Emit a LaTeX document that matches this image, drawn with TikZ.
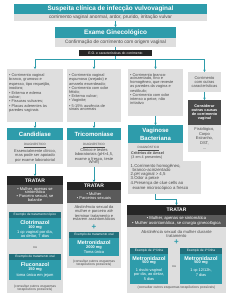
\documentclass[tikz,border=0pt]{standalone}
\usepackage{fontspec}
\setmainfont{Liberation Sans}
\usetikzlibrary{arrows.meta}
\definecolor{tealc}{HTML}{2E9CAB}
\definecolor{tealdk}{HTML}{22707C}
\definecolor{lgray}{HTML}{DEDEDE}
\definecolor{mgray}{HTML}{5A5A5A}
\definecolor{dgray}{HTML}{4A4A4A}
\definecolor{blk}{HTML}{262626}
\definecolor{txtg}{HTML}{4A4A4A}
\newcommand\fsz[2]{\fontsize{#1}{#2}\selectfont}
\newcommand\bx[6]{\node[#6, minimum width=#4pt, minimum height=#5pt, anchor=north west, inner sep=0pt, outer sep=0pt] (#1) at (#2,#3) {};}
\begin{document}
\begin{tikzpicture}[x=1pt,y=-1pt,
  tbox/.style={fill=tealc},
  tdbox/.style={fill=tealdk},
  gbox/.style={fill=lgray},
  mbox/.style={fill=mgray},
  dbox/.style={fill=dgray},
  kbox/.style={fill=blk},
  txt/.style={inner sep=0pt, align=center, text=txtg, font=\fsz{4}{3.7}},
  ltxt/.style={inner sep=0pt, align=left, text=txtg, font=\fsz{3.9}{3.55}, anchor=north west},
  wtxt/.style={inner sep=0pt, align=center, text=white, font=\fsz{4}{3.9}},
  head/.style={inner sep=0pt, align=center, text=white, font=\bfseries\fsz{6}{6}},
  trat/.style={inner sep=0pt, align=center, text=white, font=\bfseries\fsz{5}{5}},
  diag/.style={inner sep=0pt, text=txtg, font=\fsz{3.1}{3.1}},
  plus/.style={inner sep=0pt, text=tealc, font=\bfseries\fsz{8}{8}},
  exh/.style={inner sep=0pt, align=center, text=white, font=\fsz{3.2}{3.2}},
  drug/.style={inner sep=0pt, align=center, text=white, font=\bfseries\fsz{5.4}{5.4}},
  dose/.style={inner sep=0pt, align=center, text=white, font=\bfseries\fsz{3.9}{3.9}},
  cons/.style={inner sep=0pt, align=center, text=txtg, font=\fsz{3.4}{3.5}},
  line/.style={draw=tealc, line width=0.7pt},
  conn/.style={draw=tealc, line width=0.7pt, -{Stealth[length=2.4pt,width=2.6pt]}},
]
\useasboundingbox (0,0) rectangle (230,300);
% top
\bx{T1}{14}{4}{193}{10}{tbox}
\bx{T1s}{14}{14}{193}{7}{gbox}
\node[head, font=\bfseries\fsz{6.4}{6.4}] (t1t) at (T1.center) {Suspeita clínica de infecção vulvovaginal};
\node[txt, font=\fsz{4.8}{4.8}] (t1s) at (T1s.center) {corrimento vaginal anormal, ardor, prurido, irritação vulvar};
\bx{E1}{55}{27}{121}{11}{tbox}
\bx{E1s}{55}{38}{121}{9}{gbox}
\node[head, font=\bfseries\fsz{6.4}{6.4}] (e1t) at (E1.center) {Exame Ginecológico};
\node[txt, font=\fsz{4.8}{4.8}] (e1s) at (E1s.center) {Confirmação de corrimento com origem vaginal};
\draw[conn] (T1s.south -| E1.north) -- (E1.north);
% upper boxes
\bx{B1}{7}{69}{56}{53}{gbox}
\bx{B2}{67}{69}{54}{53}{gbox}
\bx{B3}{128}{69}{55}{47}{gbox}
\bx{B4}{188}{72}{33}{20}{gbox}
\bx{B4d}{188}{100}{33}{25}{dbox}
\bx{B4g}{188}{125}{33}{27}{gbox}
\coordinate (hl) at (115.5,59);
\draw[line] (E1s.south) -- (hl);
\draw[line] (B1.north |- hl) -- (B4.north |- hl);
\node[kbox, minimum width=73pt, minimum height=6pt, inner sep=0pt, text=white, font=\fsz{3.4}{3.4}] (EO) at (115.5,53) {E.O. e características do corrimento};
\draw[conn] (B1.north |- hl) -- (B1.north);
\draw[conn] (B2.north |- hl) -- (B2.north);
\draw[conn] (B3.north |- hl) -- (B3.north);
\draw[conn] (B4.north |- hl) -- (B4.north);
\draw[conn] (B4.south) -- (B4d.north);
\node[ltxt] (b1t) at (9,73) {• Corrimento vaginal\\branco, grumoso e\\espesso, tipo requeijão,\\inodoro;\\[1pt]• Eritema e edema\\vulvar;\\[1.2pt]• Fissuras vulvares;\\[1.2pt]• Placas aderentes às\\paredes vaginais};
\node[ltxt] (b2t) at (69,73) {• Corrimento vaginal\\espumoso (arejado) e\\amarelo esverdeado;\\[0.8pt]• Corrimento com odor\\fétido;\\[0.8pt]• Eritema vulvar;\\[0.8pt]• Vaginite;\\[0.8pt]• 5-15\% ausência de\\sinais anormais};
\node[ltxt] (b3t) at (130,73) {• Corrimento branco-\\acinzentado, fino e\\homogêneo, que reveste\\as paredes da vagina e\\vestíbulo;\\[0.6pt]• Corrimento com odor\\intenso a peixe, não\\irritativo};
\node[txt] (b4t) at (B4.center) {Corrimento\\com outras\\características};
\node[wtxt, font=\bfseries\fsz{3.8}{4}] (b4d) at (B4d.center) {Considerar\\outras causas\\de corrimento\\vaginal};
\node[txt, font=\fsz{4}{4.7}] (b4g) at (B4g.center) {Fisiológico,\\Corpo\\Estranho,\\DST,\\...};
% headers
\bx{H1}{7}{128}{56}{12}{tbox}
\bx{H1g}{7}{140}{56}{24}{gbox}
\bx{H2}{67}{128}{54}{12}{tbox}
\bx{H2g}{67}{140}{54}{27}{gbox}
\bx{H3}{128}{125}{55}{18}{tbox}
\bx{H3g}{128}{143}{55}{20}{gbox}
\bx{H3w}{128}{161}{73}{33}{gbox}
\draw[conn] (B1.south) -- (H1.north);
\draw[conn] (B2.south) -- (H2.north);
\draw[conn] (B3.south) -- (H3.north);
\node[head] (h1t) at (H1.center) {Candidíase};
\node[head] (h2t) at (H2.center) {Tricomoníase};
\node[head, font=\bfseries\fsz{6}{7.8}] (h3t) at (H3.center) {Vaginose\\Bacteriana};
\node[diag] (d1) at (35,145) {\underline{DIAGNÓSTICO}};
\node[txt, anchor=north] (h1d) at (35,149.6) {Essencialmente clínico,\\mas pode ser apoiado\\por exame laboratorial};
\node[diag] (d2) at (94,145) {\underline{DIAGNÓSTICO}};
\node[txt, anchor=north] (h2d) at (94,148.6) {Clínico e testes\\laboratoriais (pH>4,5,\\exame a fresco, teste\\Whiff)};
\node[diag] (d3) at (148.5,148) {\underline{DIAGNÓSTICO}};
\node[ltxt, font=\bfseries\fsz{3.7}{3.7}] (h3a) at (131,151.6) {Critérios de Amsel};
\node[ltxt, font=\fsz{3.7}{3.7}] (h3b) at (131,155.6) {(3 em 4 presentes)};
\node[ltxt, font=\fsz{4.3}{4.05}] (h3l) at (130.5,164.5) {1.Corrimento homogêneo,\\\hspace*{2pt}branco-acinzentado\\2.pH vaginal > 4,5\\3.Odor a peixe\\4.Presença de clue cells ao\\\hspace*{2pt}exame microscópico a fresco};
% TRATAR 1
\bx{TR1}{7}{176}{56}{9}{kbox}
\bx{TR1s}{7}{185}{56}{19}{mbox}
\bx{TR1g}{7}{204}{56}{89}{gbox}
\draw[conn] (H1g.south) -- (TR1.north);
\node[trat] (tr1t) at (TR1.center) {TRATAR};
\node[wtxt] (tr1s) at (TR1s.center) {• Mulher, apenas se\\sintomática\\• Parceiro sexual, se\\balanite};
\bx{C1h}{9}{212}{52}{6}{tdbox}
\bx{C1b}{9}{218}{52}{21}{tbox}
\node[exh] (c1h) at (C1h.center) {Exemplo de tratamento tópico};
\node[drug] (c1a) at (35,223) {Clotrimazol};
\node[dose] (c1b) at (35,228) {100 mg};
\node[wtxt, anchor=north] (c1c) at (35,230.6) {1 cp vaginal por dia,\\ao deitar, 7 dias};
\node[cons] (ou1) at (35,248) {ou};
\bx{C2h}{9}{254}{52}{6}{tdbox}
\bx{C2b}{9}{260}{52}{20}{tbox}
\node[exh] (c2h) at (C2h.center) {Exemplo de tratamento oral};
\node[drug] (c2a) at (35,265) {Fluconazol};
\node[dose] (c2b) at (35,270) {150 mg};
\node[wtxt] (c2c) at (35,275) {toma única em jejum};
\node[cons, anchor=north] (cs1) at (35,284.5) {(consultar outros esquemas\\terapêuticos possíveis)};
% TRATAR 2
\bx{TR2}{67}{182}{54}{7.5}{kbox}
\bx{TR2s}{67}{189.5}{54}{13.5}{mbox}
\bx{TR2g}{67}{203}{54}{65}{gbox}
\draw[conn] (H2g.south) -- (TR2.north);
\node[trat] (tr2t) at (TR2.center) {TRATAR};
\node[wtxt, font=\fsz{4}{4.6}] (tr2s) at (TR2s.center) {• Mulher\\• Parceiros sexuais};
\node[txt, anchor=north] (tr2g) at (94,205.6) {Abstinência sexual da\\mulher e parceiro até\\terminar tratamento e\\estarem assintomáticos};
\node[plus] (p2) at (94,227.5) {+};
\bx{M1h}{69}{232}{50}{6}{tdbox}
\bx{M1b}{69}{238}{50}{18}{tbox}
\node[exh] (m1h) at (M1h.center) {Exemplo de tratamento oral};
\node[drug] (m1a) at (94,243) {Metronidazol};
\node[dose] (m1b) at (94,248) {2000 mg};
\node[wtxt] (m1c) at (94,252.5) {Toma única};
\node[cons, anchor=north] (cs2) at (94,259.5) {(consultar outros esquemas\\terapêuticos possíveis)};
% TRATAR 3
\bx{TR3}{127}{205}{99}{10}{kbox}
\bx{TR3s}{127}{215}{99}{12}{mbox}
\bx{TR3g}{127}{227}{99}{66}{gbox}
\draw[conn] (H3.south |- H3w.south) -- ++(0,5) -| (TR3.north);
\node[trat] (tr3t) at (TR3.center) {TRATAR};
\node[wtxt, font=\fsz{4.2}{4.3}] (tr3s) at (TR3s.center) {• Mulher, apenas se sintomática\\• Mulher assintomática, se cirurgia ginecológica};
\node[txt, anchor=north, font=\fsz{4.2}{4}] (tr3g) at (176.5,230.6) {Abstinência sexual da mulher durante\\tratamento};
\node[plus] (p3) at (176.5,242) {+};
\bx{V1h}{130}{248}{38}{6}{tdbox}
\bx{V1b}{130}{254}{38}{30}{tbox}
\bx{V2h}{180}{248}{42}{6}{tdbox}
\bx{V2b}{180}{254}{42}{30}{tbox}
\node[exh] (v1h) at (V1h.center) {Exemplo de 1ª linha};
\node[exh] (v2h) at (V2h.center) {Exemplo de 1ª linha};
\node[drug] (v1a) at (149,258.5) {Metronidazol};
\node[dose] (v1b) at (149,263) {500 mg};
\node[wtxt, anchor=north, font=\fsz{3.9}{4.9}] (v1c) at (149,268) {1 óvulo vaginal\\por dia, ao deitar,\\5 dias};
\node[drug] (v2a) at (201,258.5) {Metronidazol};
\node[dose] (v2b) at (201,263) {500 mg};
\node[wtxt, anchor=north, font=\fsz{3.9}{5.4}] (v2c) at (201,268) {1 cp 12/12h,\\7 dias};
\node[cons] (ou3) at (174,267) {ou};
\node[cons] (cs3) at (176.5,288) {(consultar outros esquemas terapêuticos possíveis)};
\end{tikzpicture}
\end{document}
